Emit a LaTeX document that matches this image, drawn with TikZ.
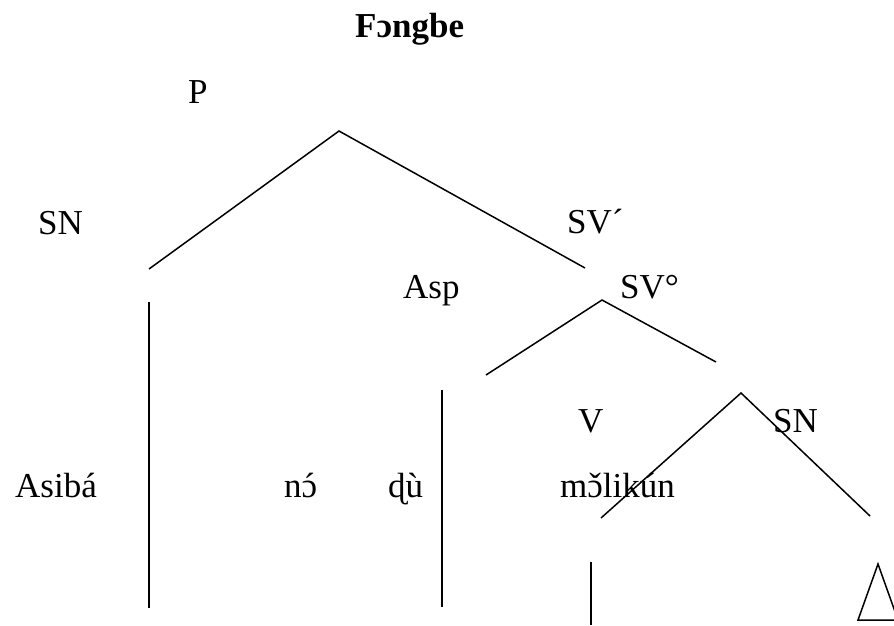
\documentclass[tikz,border=0pt]{standalone}
\usepackage{fontspec}
\setmainfont{Liberation Serif}
\newcommand{\oacute}{\accent"00B4 ɔ}
\newcommand{\ocaron}{\accent"02C7 ɔ}
\begin{document}
\begin{tikzpicture}[x=1pt,y=-1pt,
  lbl/.style={inner sep=0pt,anchor=base west,font=\fontsize{35}{40}\selectfont},
  ttl/.style={inner sep=0pt,anchor=base west,font=\fontsize{35}{40}\selectfont\bfseries},
  branch/.style={line width=1.5pt,line join=miter}]
\useasboundingbox (0,0) rectangle (894,625);
\fill[white] (0,0) rectangle (894,625);
% labels
\node[ttl] (title) at (355,37) {Fɔngbe};
\node[lbl] (P) at (188,103) {P};
\node[lbl] (SN1) at (38,234) {SN};
\node[lbl] (SVp) at (567,233) {SV´};
\node[lbl] (Asp) at (403,298) {Asp};
\node[lbl] (SVo) at (620,298) {SV°};
\node[lbl] (V) at (578,432) {V};
\node[lbl] (SN2) at (773,432) {SN};
\node[lbl] (asiba) at (15,497) {Asibá};
\node[lbl] (no) at (284,497) {n\oacute};
\node[lbl] (du) at (388,497) {ɖù};
\node[lbl] (moli) at (560,497) {m\ocaron likún};
% branch points
\coordinate (pL) at (149,269);
\coordinate (pA) at (339,131);
\coordinate (pR) at (585,268);
\coordinate (sL) at (486,375);
\coordinate (sA) at (602,300);
\coordinate (sR) at (716,362);
\coordinate (vL) at (601,518);
\coordinate (vA) at (741,393);
\coordinate (vR) at (870,516);
\coordinate (a1) at (149,302);
\coordinate (a2) at (149,608);
\coordinate (b1) at (442,390);
\coordinate (b2) at (442,607);
\coordinate (c1) at (591,562);
\coordinate (c2) at (591,625);
\coordinate (tA) at (878,564);
\coordinate (tL) at (858,620);
\coordinate (tR) at (898,620);
% branches
\draw[branch] (pL) -- (pA) -- (pR);
\draw[branch] (sL) -- (sA) -- (sR);
\draw[branch] (vL) -- (vA) -- (vR);
\draw[branch] (a1) -- (a2);
\draw[branch] (b1) -- (b2);
\draw[branch] (c1) -- (c2);
\draw[branch] (tA) -- (tL) -- (tR) -- cycle;
\end{tikzpicture}
\end{document}
